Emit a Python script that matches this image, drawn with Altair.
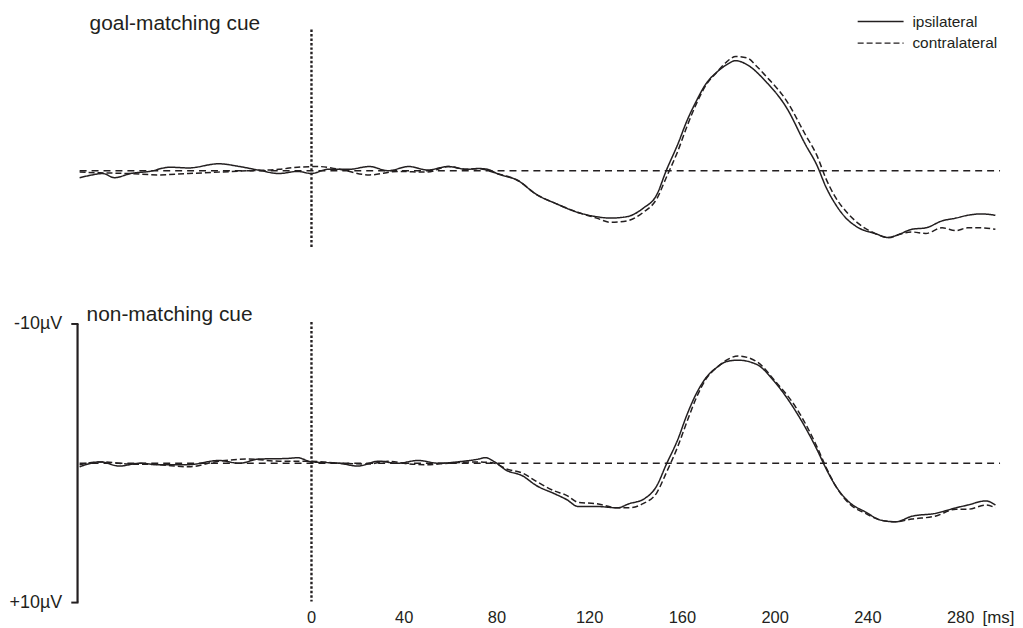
import altair as alt
import pandas as pd

# ---------------- data (time in ms, amplitude in µV; negative plotted upward) ----------------
series_names = ["ipsilateral", "contralateral"]
panel_titles = ["goal-matching cue", "non-matching cue"]
x_ticks = [0, 40, 80, 120, 160, 200, 240, 280]
bar_values = [-10, 10]
bar_labels = ["-10µV", "+10µV"]

top_ipsi_t = [-100, -96, -90, -85, -78, -70, -61, -53, -40, -31, -23, -14, -6, 0, 7, 16, 25, 33, 42, 50,
              59, 67, 72, 76, 80, 89, 97, 106, 115, 123, 129, 136, 143, 149, 153, 158, 162, 166, 170, 175,
              179, 183, 188, 196, 205, 213, 218, 222, 226, 230, 236, 243, 249, 253, 259, 265, 272, 278, 283, 289, 295]
top_ipsi_v = [0.5, 0.35, 0.2, 0.5, 0.2, 0.05, -0.25, -0.2, -0.5, -0.3, -0.05, 0.2, 0.05, 0.2, -0.1, -0.1, -0.3, 0, -0.3, -0.05,
              -0.3, -0.1, -0.16, -0.1, 0.2, 0.7, 1.7, 2.4, 3.0, 3.3, 3.4, 3.3, 2.7, 1.7, 0, -1.9, -3.6, -5.0, -6.2, -7.1,
              -7.6, -7.9, -7.6, -6.4, -4.5, -1.9, -0.4, 1.2, 2.4, 3.3, 4.1, 4.5, 4.8, 4.6, 4.2, 4.1, 3.6, 3.4, 3.2, 3.1, 3.2]

top_contra_t = [-100, -91, -79, -66, -53, -40, -27, -14, -6, 3, 12, 25, 37, 50, 59, 67, 72, 80, 89, 97,
                106, 115, 123, 129, 136, 143, 149, 153, 158, 162, 166, 170, 175, 179, 183, 188, 192, 196, 205, 213,
                218, 222, 226, 231, 236, 243, 249, 253, 259, 265, 272, 278, 283, 289, 295]
top_contra_v = [0.1, 0.15, 0.2, 0.3, 0.2, 0.1, 0, -0.1, -0.25, -0.3, -0.1, 0.3, 0.05, 0.1, -0.3, -0.1, -0.15, 0.2, 0.7, 1.7,
                2.4, 3.0, 3.4, 3.7, 3.6, 3.0, 2.0, 0.5, -1.4, -3.2, -4.8, -6.1, -7.1, -7.8, -8.2, -8.1, -7.5, -6.8, -5.0, -2.6,
                -1.1, 0.6, 1.9, 3.0, 3.8, 4.5, 4.8, 4.6, 4.4, 4.5, 4.1, 4.3, 4.1, 4.1, 4.2]

bot_ipsi_t = [-100, -91, -83, -74, -66, -53, -40, -31, -23, -10, -6, 0, 12, 20, 29, 37, 46, 55, 63, 72,
              75, 79, 84, 91, 97, 105, 110, 115, 123, 132, 137, 143, 149, 153, 158, 162, 166, 170, 175, 179,
              184, 192, 200, 209, 218, 222, 226, 232, 239, 246, 252, 259, 269, 278, 283, 291, 295]
bot_ipsi_v = [0.25, -0.1, 0.2, 0, 0.1, 0.1, -0.2, 0, -0.3, -0.35, -0.4, -0.1, 0, 0.2, -0.15, 0, -0.2, 0, -0.1, -0.3,
              -0.4, -0.1, 0.5, 0.9, 1.6, 2.2, 2.6, 3.1, 3.1, 3.2, 2.9, 2.6, 1.6, 0.1, -1.7, -3.5, -5.0, -6.1, -6.9, -7.3,
              -7.4, -7.1, -5.8, -3.7, -1.0, 0.4, 1.6, 2.8, 3.5, 4.1, 4.2, 3.8, 3.6, 3.2, 3.0, 2.7, 3.0]

bot_contra_t = [-100, -91, -79, -66, -53, -40, -27, -14, -1, 12, 25, 33, 42, 50, 59, 72, 79, 84, 91, 97,
                105, 110, 115, 123, 132, 137, 143, 149, 153, 158, 162, 166, 170, 175, 179, 184, 192, 200, 209, 218,
                222, 226, 232, 239, 246, 252, 259, 269, 278, 283, 291, 295]
bot_contra_v = [0.1, -0.1, 0.05, 0.1, 0.25, -0.15, -0.3, -0.15, -0.15, 0, 0.05, -0.15, 0.05, 0.1, 0, -0.1, 0, 0.4, 0.7, 1.3,
                2.0, 2.3, 2.8, 2.9, 3.2, 3.2, 2.9, 2.1, 0.7, -1.2, -3.0, -4.7, -6.0, -6.9, -7.4, -7.7, -7.3, -5.9, -4.0, -1.2,
                0.3, 1.6, 2.9, 3.6, 4.1, 4.2, 4.0, 3.8, 3.3, 3.3, 3.0, 3.2]

# ---------------- layout / style constants ----------------
INK = "#231f20"
FONT = "Liberation Sans"
W = 1010
X_DOM = [-130.9, 302.6]
TOP_H, BOT_H = 250, 339
TOP_DOM = [-11.571, 6.286]
BOT_DOM = [-12.571, 11.643]

xs = alt.Scale(domain=X_DOM, nice=False, zero=False)


def lines_df(it, iv, ct, cv):
    a = pd.DataFrame({"t": it, "v": iv, "series": series_names[0]})
    b = pd.DataFrame({"t": ct, "v": cv, "series": series_names[1]})
    return pd.concat([a, b], ignore_index=True)


def panel(df, ydom, height, title, title_x, title_y, dot_y, dot_y2):
    ys = alt.Scale(domain=ydom, reverse=True, nice=False, zero=False)
    X = lambda f, **k: alt.X(f, type="quantitative", scale=xs, axis=None, **k)
    Y = lambda f, **k: alt.Y(f, type="quantitative", scale=ys, axis=None, **k)

    base_line = alt.Chart(pd.DataFrame({"x": [-100], "x2": [297], "y": [0]})).mark_rule(
        color=INK, strokeWidth=1.5, strokeDash=[7, 5]
    ).encode(x=X("x"), x2="x2", y=Y("y"))

    zero_line = alt.Chart(pd.DataFrame({"x": [0], "y": [dot_y], "y2": [dot_y2]})).mark_rule(
        color=INK, strokeWidth=2.4, strokeDash=[2.5, 2]
    ).encode(x=X("x"), y=Y("y"), y2="y2")

    waves = alt.Chart(df).mark_line(color=INK, strokeWidth=1.5, interpolate="monotone").encode(
        x=X("t"), y=Y("v"),
        strokeDash=alt.StrokeDash("series:N", scale=alt.Scale(domain=series_names, range=[[1, 0], [6, 3]]), legend=None),
        detail="series:N",
    )

    ttl = alt.Chart(pd.DataFrame({"x": [title_x], "y": [title_y], "label": [title]})).mark_text(
        align="left", baseline="alphabetic", font=FONT, fontSize=21, color=INK
    ).encode(x=X("x"), y=Y("y"), text="label:N")

    return alt.layer(base_line, zero_line, waves, ttl).properties(width=W, height=height)


top = panel(lines_df(top_ipsi_t, top_ipsi_v, top_contra_t, top_contra_v), TOP_DOM, TOP_H,
            panel_titles[0], -95.7, -10.07, -10.14, 5.57)
bot = panel(lines_df(bot_ipsi_t, bot_ipsi_v, bot_contra_t, bot_contra_v), BOT_DOM, BOT_H,
            panel_titles[1], -97, -10.21, -10.14, 9.93)

ys_top = alt.Scale(domain=TOP_DOM, reverse=True, nice=False, zero=False)
ys_bot = alt.Scale(domain=BOT_DOM, reverse=True, nice=False, zero=False)

# legend (top panel)
leg = pd.DataFrame({"x": [235.6, 235.6], "x2": [255.4, 255.4], "y": [-10.71, -9.16],
                    "series": series_names, "tx": [259.2, 259.2]})
leg_lines = alt.Chart(leg).mark_rule(color=INK, strokeWidth=1.4).encode(
    x=alt.X("x:Q", scale=xs, axis=None), x2="x2", y=alt.Y("y:Q", scale=ys_top, axis=None),
    strokeDash=alt.StrokeDash("series:N", scale=alt.Scale(domain=series_names, range=[[1, 0], [6, 4]]), legend=None),
)
leg_text = alt.Chart(leg).mark_text(align="left", baseline="middle", font=FONT, fontSize=15.5, color=INK).encode(
    x=alt.X("tx:Q", scale=xs, axis=None), y=alt.Y("y:Q", scale=ys_top, axis=None), text="series:N"
)
top = alt.layer(top, leg_lines, leg_text)

# scale bar (bottom panel)
bar = alt.Chart(pd.DataFrame({"x": [-100.9], "y": [bar_values[0]], "y2": [bar_values[1]]})).mark_rule(
    color=INK, strokeWidth=2.2
).encode(x=alt.X("x:Q", scale=xs, axis=None), y=alt.Y("y:Q", scale=ys_bot, axis=None), y2="y2")
bar_ticks_df = pd.DataFrame({"x": [-103.6, -103.6], "x2": [-100.5, -100.5], "y": bar_values,
                             "label": bar_labels, "lx": [-107.5, -107.5]})
bar_ticks = alt.Chart(bar_ticks_df).mark_rule(color=INK, strokeWidth=2).encode(
    x=alt.X("x:Q", scale=xs, axis=None), x2="x2", y=alt.Y("y:Q", scale=ys_bot, axis=None)
)
bar_text = alt.Chart(bar_ticks_df).mark_text(align="right", baseline="middle", font=FONT, fontSize=18, color=INK).encode(
    x=alt.X("lx:Q", scale=xs, axis=None), y=alt.Y("y:Q", scale=ys_bot, axis=None), text="label:N"
)

# time labels
tick_df = pd.DataFrame({"t": x_ticks, "y": [11.43] * len(x_ticks)})
tick_text = alt.Chart(tick_df).mark_text(align="center", baseline="alphabetic", font=FONT, fontSize=16.5, color=INK).encode(
    x=alt.X("t:Q", scale=xs, axis=None), y=alt.Y("y:Q", scale=ys_bot, axis=None), text=alt.Text("t:Q", format="d")
)
unit_text = alt.Chart(pd.DataFrame({"t": [x_ticks[-1]], "y": [11.43], "u": ["[ms]"]})).mark_text(
    align="left", baseline="alphabetic", font=FONT, fontSize=17, color=INK, dx=22
).encode(x=alt.X("t:Q", scale=xs, axis=None), y=alt.Y("y:Q", scale=ys_bot, axis=None), text="u:N")

bot = alt.layer(bot, bar, bar_ticks, bar_text, tick_text, unit_text)

chart = alt.vconcat(top, bot, spacing=30).resolve_scale(y="independent").properties(
    padding=0, background="white"
).configure_view(stroke=None, strokeWidth=0)

chart.save("out.html", embed_options={"renderer": "svg", "actions": False})
